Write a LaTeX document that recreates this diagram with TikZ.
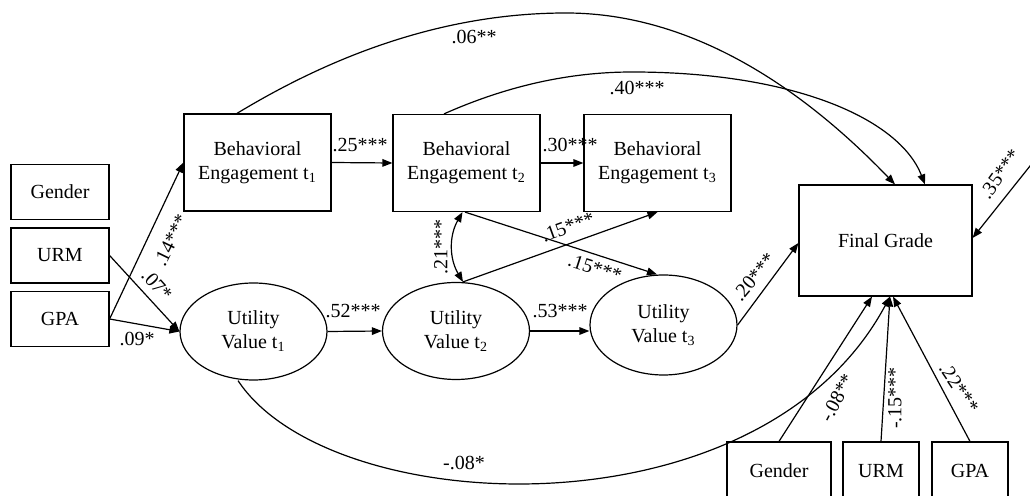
\documentclass[tikz,border=0pt]{standalone}
\usepackage{fontspec}
\setmainfont{Liberation Serif}
\usetikzlibrary{arrows.meta,calc,shapes.geometric}
\begin{document}
\begin{tikzpicture}[x=0.5pt,y=-0.5pt,
  every node/.style={font=\fontsize{10}{12}\selectfont},
  box/.style={draw, line width=0.6pt, align=center, inner sep=0pt},
  smallbox/.style={box, minimum width=49pt, minimum height=27.5pt},
  bebox/.style={box, minimum width=73.5pt, minimum height=48.5pt},
  oval/.style={draw, ellipse, line width=0.6pt, align=center, inner sep=0pt, minimum width=73.5pt, minimum height=48.5pt},
  arr/.style={line width=0.6pt, -{Triangle[length=5pt,width=3.8pt]}},
  dbl/.style={line width=0.6pt, {Triangle[length=5pt,width=3.8pt]}-{Triangle[length=5pt,width=3.8pt]}},
  lab/.style={inner sep=0pt}]
\useasboundingbox (0,0) rectangle (1030,496);

% left covariates
\node[smallbox] (g1) at (60,192) {Gender};
\node[smallbox] (u1) at (60,255.5) {URM};
\node[smallbox] (p1) at (60,319) {GPA};

% behavioral engagement
\node[bebox] (be1) at (257.5,162.5) {Behavioral\\Engagement t\textsubscript{1}};
\node[bebox] (be2) at (466.5,163) {Behavioral\\Engagement t\textsubscript{2}};
\node[bebox] (be3) at (657.5,163) {Behavioral\\Engagement t\textsubscript{3}};

% utility value
\node[oval] (uv1) at (253.5,331.5) {Utility\\Value t\textsubscript{1}};
\node[oval] (uv2) at (456,331) {Utility\\Value t\textsubscript{2}};
\node[oval, minimum height=50pt] (uv3) at (663.5,325) {Utility\\Value t\textsubscript{3}};

% final grade
\node[box, minimum width=86.5pt, minimum height=55.5pt] (fg) at (885.5,240.5) {Final Grade};

% bottom covariates
\node[box, minimum width=52pt, minimum height=29pt] (g2) at (779,471) {Gender};
\node[box, minimum width=38pt, minimum height=29pt] (u2) at (881,471) {URM};
\node[box, minimum width=38pt, minimum height=29pt] (p2) at (970,471) {GPA};

\coordinate (ext) at (1034,161);

% paths
\draw[arr] (be1.east) -- (be2.west);
\draw[arr] (be2.east) -- (be3.west);
\draw[arr] (uv1.east) -- (uv2.west);
\draw[arr] (uv2.east) -- (uv2.east -| uv3.west);
\draw[arr] (p1.east) -- (be1.west);
\draw[arr] (u1.east) -- (uv1.west);
\draw[arr] (p1.east) -- (uv1.west);
\draw[dbl] ($(be2.south)+(-4,0)$) to[bend right=30] ($(uv2.north)+(7,0)$);
\draw[arr] ($(uv2.north)+(7,0)$) -- (be3.south);
\draw[arr] ($(be2.south)+(-1.5,0)$) -- ($(uv3.north)+(-6.5,0)$);
\draw[arr] (uv3.east) -- ($(fg.west)+(0,2.5)$);
\draw[arr] (ext) -- ($(fg.east)+(0,-2.5)$);
\draw[arr] (g2.north) -- ($(fg.south)+(-13.5,0)$);
\draw[arr] (u2.north) -- ($(fg.south)+(4.5,0)$);
\draw[arr] (p2.north) -- ($(fg.south)+(7.5,0)$);
\draw[arr] ($(uv1.south)+(-15.5,0)$) .. controls (330,520) and (760,540) .. ($(fg.south)+(4.5,0)$);
\draw[arr] ($(be1.north)+(-20.5,0)$) .. controls (347,46.7) and (456.7,13) .. (566,13)
   .. controls (675.7,13) and (785.3,70.3) .. ($(fg.north)+(9.5,0)$);
\draw[arr] ($(be2.north)+(-22.5,0)$) .. controls (506.7,86) and (569.3,72) .. (632,72)
   .. controls (792,72) and (899,118) .. ($(fg.north)+(39.5,0)$);

% labels
\node[lab] (l25) at (360,145) {.25***};
\node[lab] (l30) at (570,145) {.30***};
\node[lab] (l52) at (353,311) {.52***};
\node[lab] (l53) at (560,311) {.53***};
\node[lab, rotate=64] (l14) at (171,240) {.14***};
\node[lab, rotate=-48] (l07) at (157,285) {.07*};
\node[lab] (l09) at (137,339) {.09*};
\node[lab, rotate=90] (l21) at (441,247) {.21***};
\node[lab, rotate=20] (l15a) at (568,227) {.15***};
\node[lab, rotate=-18] (l15b) at (595,268) {.15***};
\node[lab, rotate=50] (l20) at (754,277) {.20***};
\node[lab, rotate=54] (l35) at (1000,174) {.35***};
\node[lab] (l06) at (474,37) {.06**};
\node[lab] (l40) at (637,88) {.40***};
\node[lab] (l08a) at (464,463) {-.08*};
\node[lab, rotate=62] (l08b) at (837,398) {-.08**};
\node[lab, rotate=90] (l15c) at (895,398) {-.15***};
\node[lab, rotate=-56] (l22) at (959,388) {.22***};
\end{tikzpicture}
\end{document}
